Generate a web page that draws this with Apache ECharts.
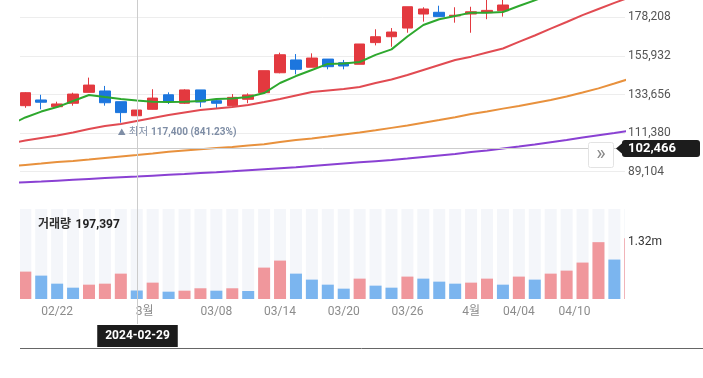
<!DOCTYPE html>
<html><head><meta charset="utf-8">
<script src="https://cdn.jsdelivr.net/npm/echarts@6/dist/echarts.min.js"></script>
<style>html,body{margin:0;padding:0;background:#fff}#c{width:703px;height:378px}</style>
</head><body><div id="c"></div>
<script>
const dates = ['2024-02-19','2024-02-20','2024-02-21','2024-02-22','2024-02-23','2024-02-26','2024-02-27','2024-02-28','2024-02-29','2024-03-04','2024-03-05','2024-03-06','2024-03-07','2024-03-08','2024-03-11','2024-03-12','2024-03-13','2024-03-14','2024-03-15','2024-03-18','2024-03-19','2024-03-20','2024-03-21','2024-03-22','2024-03-25','2024-03-26','2024-03-27','2024-03-28','2024-03-29','2024-04-01','2024-04-02','2024-04-03','2024-04-04','2024-04-05','2024-04-08','2024-04-09','2024-04-11','2024-04-12','2024-04-15','2024-04-16'];
const opens  = [124000,127200,130500,126600,128600,134900,135700,129500,121400,125100,133500,128600,136300,130100,127200,130900,134700,146200,153600,149400,154100,152000,151100,163600,167000,172000,180100,181100,179000,180100,180900,182000,190000,196000,196500,203000,208000,219000,235000,228000];
const closes = [127500,134700,129200,128200,133900,139100,128900,123200,124700,131600,129500,136300,129300,128600,132000,133400,147400,156600,148200,154700,149700,150100,162800,167000,169700,184300,183000,178600,179400,181400,182200,185300,195200,195900,203000,207000,218000,236000,228000,240000];
const lows   = [123000,126000,125100,126400,127200,134900,127200,117400,121400,125000,128200,128200,126300,125700,127000,128600,134500,145900,145300,149400,148200,148200,151100,162000,161200,169300,175700,178600,175100,169300,177100,178600,189000,191000,195000,200000,206000,215000,224000,226000];
const highs  = [128500,135000,133500,129500,134700,143400,138600,129500,124700,136700,134900,136700,136300,131100,133900,134300,147400,157800,157000,157400,154100,153600,162800,171300,172000,184300,184000,184900,184000,184300,189000,190000,197000,199000,205000,209000,220000,240000,238000,245000];
const volumes = [480000,636000,543000,356000,263000,333000,356000,589000,197397,380000,170000,193000,249000,193000,249000,186000,729000,892000,589000,450000,333000,240000,473000,310000,263000,520000,473000,403000,356000,380000,473000,333000,520000,450000,589000,659000,846000,1320000,916000,1410000];
const ma5   = [116000,120400,123800,126400,129900,133400,132200,131100,130200,129500,129300,129500,129900,131100,131300,132200,134500,140300,144300,147800,151300,151500,152400,156500,159700,167100,173800,177100,179000,180900,180900,181300,184700,188000,191500,195000,199500,205000,209500,216000];
const ma20  = [105400,107100,108600,110000,111700,113700,115500,116600,118400,120100,121800,123300,124700,125600,126400,127600,129300,131100,133100,135100,136000,136800,138000,140300,142300,144900,147800,150700,153600,155500,157900,160200,164000,167700,171700,175500,179500,183000,186500,189900];
const ma60  = [92100,93000,93800,94700,95300,96100,97000,97900,98700,99600,100600,101300,102000,102800,103400,104200,104900,106200,107400,108300,109400,110600,111700,113000,114400,115800,117400,118900,120500,122400,123800,125500,127000,128800,130500,132500,134800,137200,140000,142900];
const ma120 = [82500,83000,83400,83900,84400,84900,85400,85900,86300,86800,87300,87800,88400,88800,89300,89900,90500,91100,91700,92400,93100,93800,94500,95200,95900,96700,97600,98500,99300,100500,101400,102500,103600,104800,106100,107400,108800,110100,111400,112900];
const xTickPositions = [3, 8.5, 13, 17, 21, 25, 29, 32, 35.5];
const xTickLabels = ['02/22','3월','03/08','03/14','03/20','03/26','4월','04/04','04/10'];
const currentPrice = 102466;
const lowestIndex = 7;
const lowestLabel = '117,400 (841.23%)';
const volumeMarkValue = 1320000;
const volumeMarkLabel = '1.32m';
const selectedIndex = 8;

const FONT = "Roboto, 'Noto Sans CJK KR', sans-serif";
const UP = '#e3393f', DOWN = '#1c76de';
const VOL_UP = '#f0979c', VOL_DOWN = '#7bb5ef', VOL_BG = '#f4f6fa';
const fmt = v => Math.round(v).toLocaleString('en-US');

const candleData = dates.map((d, i) => [i, opens[i], closes[i], lows[i], highs[i]]);
const volData = volumes.map((v, i) => [i, v]);
const maLine = (arr, color) => ({
  type: 'line', xAxisIndex: 0, yAxisIndex: 0, showSymbol: false, symbol: 'none',
  data: arr.map((v, i) => [i, v]), lineStyle: { color, width: 2 }, z: 3, silent: true
});

const XMIN = 0.667, XMAX = 38.667;
const chart = echarts.init(document.getElementById('c'), null, { renderer: 'canvas' });
const option = {
  animation: false,
  textStyle: { fontFamily: FONT },
  title: {
    left: 33, top: 211,
    text: '{a|거래량} {b|' + fmt(volumes[selectedIndex]) + '}',
    textStyle: { rich: {
      a: { fontFamily: FONT, fontSize: 12, color: '#333' },
      b: { fontFamily: FONT, fontSize: 12, color: '#222', fontWeight: 'bold' }
    } }
  },
  grid: [
    { left: 20, top: 0, width: 605, height: 210.3 },
    { left: 20, top: 209, width: 605, height: 90 }
  ],
  xAxis: [
    { type: 'value', gridIndex: 0, min: XMIN, max: XMAX, show: false },
    { type: 'value', gridIndex: 1, min: XMIN, max: XMAX,
      axisLine: { show: false }, axisTick: { show: false }, splitLine: { show: false },
      axisLabel: { customValues: xTickPositions, margin: 7, color: '#8c8c8c', fontSize: 12, fontFamily: FONT,
        formatter: v => { const k = xTickPositions.indexOf(v); return k >= 0 ? xTickLabels[k] : ''; } } }
  ],
  yAxis: [
    { type: 'value', gridIndex: 0, position: 'right', min: 66828, max: 188192, interval: 22276,
      axisLine: { show: false }, axisTick: { show: false },
      axisLabel: { margin: 3, color: '#555', fontSize: 12, fontFamily: FONT, showMinLabel: false, showMaxLabel: false, formatter: v => fmt(v) },
      splitLine: { show: true, showMinLine: false, showMaxLine: false, lineStyle: { color: '#ededed', width: 1 } } },
    { type: 'value', gridIndex: 1, position: 'right', min: 0, max: 2090000,
      axisLine: { show: false }, axisTick: { show: false }, splitLine: { show: false },
      axisLabel: { customValues: [volumeMarkValue], margin: 3, color: '#333', fontSize: 12, fontFamily: FONT,
        formatter: () => volumeMarkLabel } }
  ],
  series: [
    { type: 'candlestick', xAxisIndex: 0, yAxisIndex: 0, data: candleData,
      encode: { x: 0, y: [1, 2, 3, 4] }, barWidth: 11, z: 2,
      itemStyle: { color: UP, color0: DOWN, borderColor: UP, borderColor0: DOWN, borderWidth: 1 },
      markLine: { silent: true, symbol: 'none', label: { show: false },
        lineStyle: { color: '#cdcdcd', type: 'solid', width: 1 },
        data: [{ yAxis: currentPrice }] },
      markPoint: { silent: true, symbol: 'circle', symbolSize: 0,
        data: [{ coord: [lowestIndex, lows[lowestIndex]] }],
        label: { show: true, position: [-3, 4], align: 'left', verticalAlign: 'top',
          formatter: '{a|▲} {b|최저} {c|' + lowestLabel + '}',
          rich: {
            a: { fontSize: 8, color: '#7f8ea6', fontFamily: FONT },
            b: { fontSize: 10.5, color: '#7f8ea6', fontFamily: FONT },
            c: { fontSize: 10, color: '#7f8ea6', fontFamily: FONT, fontWeight: 'bold' }
          } } }
    },
    maLine(ma120, '#8a41d3'),
    maLine(ma60, '#e8913d'),
    maLine(ma20, '#e14b52'),
    maLine(ma5, '#2ea82e'),
    { type: 'custom', xAxisIndex: 1, yAxisIndex: 1, data: volData, encode: { x: 0, y: 1 }, silent: true,
      renderItem: (params, api) => {
        const i = api.value(0), v = api.value(1);
        const base = api.coord([i, 0]);
        const top = api.coord([i, v]);
        const w = 12;
        const cs = params.coordSys;
        const bg = echarts.graphic.clipRectByRect({ x: base[0] - w / 2, y: cs.y, width: w, height: cs.height }, cs);
        const bar = echarts.graphic.clipRectByRect({ x: base[0] - w / 2, y: top[1], width: w, height: base[1] - top[1] }, cs);
        const color = (i === 0 || v >= volumes[i - 1]) ? VOL_UP : VOL_DOWN;
        const children = [];
        if (bg) children.push({ type: 'rect', shape: bg, style: { fill: VOL_BG } });
        if (bar) children.push({ type: 'rect', shape: bar, style: { fill: color } });
        return { type: 'group', children };
      } }
  ]
};
chart.setOption(option);

const cx = Math.round(chart.convertToPixel({ xAxisIndex: 0 }, selectedIndex)) + 0.5;
const py = chart.convertToPixel({ yAxisIndex: 0 }, currentPrice);
chart.setOption({
  graphic: [
    { type: 'line', silent: true, z: 50, shape: { x1: cx, y1: 0, x2: cx, y2: 324 }, style: { stroke: '#cccccc', lineWidth: 1 } },
    { type: 'text', silent: true, z: 60, x: cx, y: 336,
      style: { text: dates[selectedIndex], fill: '#fff', font: 'bold 12px ' + FONT, align: 'center', verticalAlign: 'middle',
        backgroundColor: '#1c1c1c', padding: [5, 8] } },
    { type: 'line', silent: true, z: 50, shape: { x1: 20, y1: 348.5, x2: 703, y2: 348.5 }, style: { stroke: '#666', lineWidth: 1 } },
    { type: 'rect', silent: true, z: 60, shape: { x: 588.5, y: Math.round(py) - 6.5, width: 25, height: 25, r: 2 },
      style: { fill: '#fff', stroke: '#e3e3e3', lineWidth: 1 } },
    { type: 'text', silent: true, z: 61, x: 601, y: Math.round(py) + 6,
      style: { text: '»', fill: '#888', font: '20px ' + FONT, align: 'center', verticalAlign: 'middle' } },
    { type: 'polygon', silent: true, z: 60, shape: { points: [[616, py], [623, py - 6], [623, py + 6]] }, style: { fill: '#1c1c1c' } },
    { type: 'rect', silent: true, z: 60, shape: { x: 622, y: py - 8.5, width: 78, height: 17, r: 3 }, style: { fill: '#1c1c1c' } },
    { type: 'text', silent: true, z: 61, x: 628, y: py + 0.5,
      style: { text: fmt(currentPrice), fill: '#fff', font: 'bold 13px ' + FONT, align: 'left', verticalAlign: 'middle' } }
  ]
});
</script></body></html>
